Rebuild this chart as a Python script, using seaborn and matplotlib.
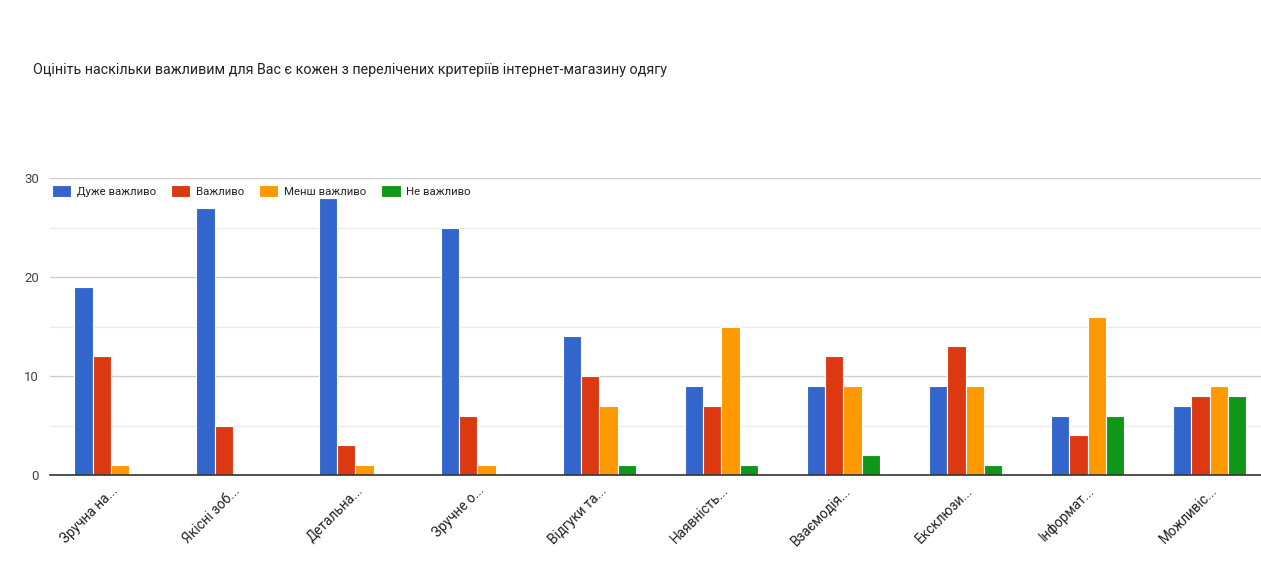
import pandas as pd
import matplotlib.pyplot as plt
import seaborn as sns

# --- data ---
categories = ['Зручна на...', 'Якісні зоб...', 'Детальна...', 'Зручне о...', 'Відгуки та...',
              'Наявність...', 'Взаємодія...', 'Ексклюзи...', 'Інформат...', 'Можливіс...']
levels = ['Дуже важливо', 'Важливо', 'Менш важливо', 'Не важливо']
very_important = [19, 27, 28, 25, 14, 9, 9, 9, 6, 7]
important = [12, 5, 3, 6, 10, 7, 12, 13, 4, 8]
less_important = [1, 0, 1, 1, 7, 15, 9, 9, 16, 9]
not_important = [0, 0, 0, 0, 1, 1, 2, 1, 6, 8]
colors = ['#3366CC', '#DC3912', '#FF9900', '#109618']

rows = []
for lvl, vals in zip(levels, [very_important, important, less_important, not_important]):
    for cat, v in zip(categories, vals):
        rows.append({'category': cat, 'level': lvl, 'count': v})
df = pd.DataFrame(rows)

sns.set_style('white')
plt.rcParams['font.family'] = ['Roboto', 'DejaVu Sans']

W, H = 1261, 585
fig = plt.figure(figsize=(W / 100, H / 100), dpi=100)
ax = fig.add_axes([50 / W, (H - 475) / H, 1211 / W, (475 - 178) / H])

sns.barplot(data=df, x='category', y='count', hue='level', hue_order=levels,
            palette=colors, width=0.6, edgecolor='white', linewidth=0.8,
            saturation=1, ax=ax)

ax.set_ylim(0, 30)
ax.set_xlim(-0.5, 9.42)
ax.set_yticks([0, 10, 20, 30])
ax.set_yticks([5, 15, 25], minor=True)
ax.grid(axis='y', which='major', color='#cccccc', linewidth=1)
ax.grid(axis='y', which='minor', color='#ebebeb', linewidth=1)
ax.set_axisbelow(True)
for s in ['top', 'right', 'left']:
    ax.spines[s].set_visible(False)
ax.spines['bottom'].set_color('#333333')
ax.spines['bottom'].set_linewidth(1.2)
ax.tick_params(axis='y', which='both', length=0, labelsize=9.5, labelcolor='#444444', pad=8)
ax.tick_params(axis='x', length=0, labelsize=9.8, labelcolor='#222222', pad=6)
ax.set_xticks(range(len(categories)))
ax.set_xticklabels(categories, rotation=45, ha='right', rotation_mode='anchor')
ax.set_xlabel('')
ax.set_ylabel('')

leg = ax.legend(loc='upper left', bbox_to_anchor=(-0.004, 1.0), ncol=4, frameon=False,
                fontsize=8.2, handlelength=1.7, handleheight=1.3, handletextpad=0.5,
                columnspacing=1.3, borderaxespad=0.2)

fig.text(33 / W, 1 - 70 / H, 'Оцініть наскільки важливим для Вас є кожен з перелічених критеріїв інтернет-магазину одягу',
         fontsize=10.3, color='#222222', va='center', ha='left')

fig.savefig('out.png', dpi=100, facecolor='white')
